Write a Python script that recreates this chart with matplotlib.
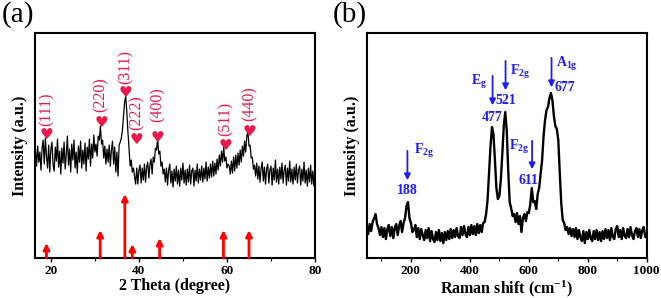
import numpy as np
import matplotlib
matplotlib.use('Agg')
import matplotlib.pyplot as plt
from matplotlib.ticker import MultipleLocator

plt.rcParams['font.family'] = 'Liberation Serif'
plt.rcParams['font.weight'] = 'bold'
plt.rcParams['axes.labelweight'] = 'bold'
plt.rcParams['mathtext.fontset'] = 'custom'
plt.rcParams['mathtext.rm'] = 'Liberation Serif:bold'
plt.rcParams['mathtext.bf'] = 'Liberation Serif:bold'
plt.rcParams['mathtext.it'] = 'Liberation Serif:italic:bold'

# XRD pattern (2 theta grid, intensity)
two_theta = np.arange(16.5, 80.01, 0.25)
xrd = [108, 92, 112, 96, 106, 88, 110, 118, 94, 120,
       102, 90, 113, 86, 109, 116, 93, 87, 111, 97,
       119, 91, 107, 84, 110, 95, 116, 89, 104, 122,
       93, 109, 86, 114, 98, 118, 90, 106, 85, 112,
       96, 117, 90, 108, 94, 115, 87, 111, 99, 119,
       92, 114, 100, 123, 106,
       114, 102, 122, 118, 132, 114, 118, 100, 112, 94, 109, 96,
       113, 92, 108, 117, 94, 111, 86, 106, 82, 113, 116,
       120, 128, 142, 156, 162, 146, 126, 110, 92,
       98, 86, 90, 82, 74, 90, 74, 88, 93, 75,
       90, 78, 94, 76, 91, 96, 80, 93, 99, 84, 101,
       96, 110, 108, 120, 104, 107, 92, 96, 84, 89,
       76, 90, 73, 88, 94, 75, 87, 71, 89, 77,
       92, 74, 88, 72, 90, 78, 95, 75, 88, 73,
       89, 76, 93, 74, 87, 90, 72, 88, 77, 94,
       75, 89, 78, 92, 76, 90, 79, 96, 77, 91,
       80, 94, 81, 97, 82, 95,
       84, 99, 88, 103, 92, 107, 96, 111, 97, 101, 90, 94, 92, 84,
       97, 85, 101, 87, 103, 90, 105, 93, 108, 96, 112,
       102, 117, 106, 122, 126, 112, 113, 100, 101, 89, 93,
       82, 95, 79, 92, 76, 90, 96, 77, 91, 74,
       89, 94, 75, 88, 92, 73, 90, 78, 98, 76,
       89, 74, 91, 79, 95, 75, 88, 93, 73, 90,
       77, 97, 76, 89, 74, 91, 78, 94, 75, 88,
       92, 73, 89, 77, 96, 75, 88, 72, 90, 76,
       93, 74, 87, 72, 85]
xrd_ticks = [20, 40, 60, 80]

# standard card positions and relative heights
ref_pos = [19.0, 31.2, 36.8, 38.5, 44.7, 59.2, 65.0]
ref_int = [15, 28, 64, 14, 20, 28, 28]

# indexed peaks
hkl = ['(111)', '(220)', '(311)', '(222)', '(400)', '(511)', '(440)']
hkl_pos = [19.1, 31.4, 37.0, 39.4, 44.3, 59.7, 65.2]
heart_y = [124, 136, 166, 119, 121, 113, 127]
label_y = [132, 146, 174, 128, 136, 122, 137]

# Raman spectrum
raman_x = np.arange(50, 1001, 5)
raman = [32, 24, 34, 27, 36, 40, 44, 34, 30, 23,
         31, 21, 30, 19, 29, 33, 22, 31, 20, 30,
         34, 23, 32, 37, 26, 35, 40, 52, 56, 40,
         35, 26, 28, 33, 21, 30, 19, 29, 23, 18,
         28, 20, 30, 17, 27, 19, 16, 26, 18, 28,
         17, 25, 15, 26, 18, 27, 19, 29, 20, 28,
         21, 30, 22, 20, 31, 23, 32, 24, 21, 31,
         23, 33, 24, 32, 23, 34, 25, 33, 26, 35,
         36, 44, 58, 85, 112, 131, 124, 98, 70, 59,
         62, 78, 104, 132, 146, 128, 88, 56, 50, 42,
         44, 36, 45, 34, 42, 26, 40, 44, 37, 46,
         45, 54, 70, 56, 57, 49, 64, 70, 84, 98,
         122, 138, 148, 151, 160, 165, 158, 142, 132, 129,
         118, 85, 55, 38, 35, 28, 31, 24, 30, 22,
         29, 21, 30, 19, 28, 21, 17, 27, 15, 26,
         19, 28, 20, 17, 27, 19, 28, 18, 26, 17,
         27, 19, 29, 20, 28, 18, 30, 21, 19, 29,
         32, 21, 28, 19, 30, 22, 20, 29, 21, 31,
         23, 19, 27, 30, 21, 29, 20, 28, 31, 21,
         24]
raman_ticks = [200, 400, 600, 800, 1000]

# Raman mode annotations
modes = ['F$_\\mathregular{2g}$', 'E$_\\mathregular{g}$', 'F$_\\mathregular{2g}$',
         'F$_\\mathregular{2g}$', 'A$_\\mathregular{1g}$']
mode_pos = [188, 477, 521, 611, 677]

red = '#e8194b'
blue = '#1c1cff'

fig = plt.figure(figsize=(6.61, 2.98), dpi=100)
ax1 = fig.add_axes([0.053, 0.134, 0.4236, 0.755])
ax2 = fig.add_axes([0.5548, 0.134, 0.4236, 0.755])

# (a) XRD
ax1.plot(two_theta, xrd, color='black', lw=0.9)
for x, h in zip(ref_pos, ref_int):
    ax1.annotate('', xy=(x, h), xytext=(x, 0),
                 arrowprops=dict(arrowstyle='-|>', color='red', lw=2, mutation_scale=9,
                                 shrinkA=0, shrinkB=0))
for lab, x, hy, ly in zip(hkl, hkl_pos, heart_y, label_y):
    ax1.text(x, hy, '\u2665', color=red, fontsize=11, ha='center', va='center',
             family='DejaVu Sans')
    ax1.text(x, ly, lab, color=red, fontsize=11.5, rotation=90, ha='center', va='bottom',
             fontweight='normal')
ax1.set_xlim(16.4, 80)
ax1.set_ylim(0, 225)
ax1.set_xticks(xrd_ticks, [str(t) for t in xrd_ticks], fontweight='bold')
ax1.xaxis.set_minor_locator(MultipleLocator(10))
ax1.set_xlabel('2 Theta (degree)', fontsize=11.5, fontweight='bold', labelpad=1)
ax1.set_ylabel('Intensity (a.u.)', fontsize=11.5, fontweight='bold', labelpad=5)

# (b) Raman
ax2.plot(raman_x, raman, color='black', lw=1.7)
ax2.annotate('', xy=(188, 75), xytext=(188, 110),
             arrowprops=dict(arrowstyle='-|>', color=blue, lw=1.3, mutation_scale=9))
ax2.text(210, 107, modes[0], color=blue, fontsize=10, ha='left', va='center')
ax2.text(188, 68, '188', color=blue, fontsize=10, ha='center', va='center')
ax2.annotate('', xy=(477, 150), xytext=(477, 185),
             arrowprops=dict(arrowstyle='-|>', color=blue, lw=1.3, mutation_scale=9))
ax2.text(458, 176, modes[1], color=blue, fontsize=10, ha='right', va='center')
ax2.text(477, 141, '477', color=blue, fontsize=10, ha='center', va='center')
ax2.annotate('', xy=(521, 165), xytext=(521, 200),
             arrowprops=dict(arrowstyle='-|>', color=blue, lw=1.3, mutation_scale=9))
ax2.text(537, 186, modes[2], color=blue, fontsize=10, ha='left', va='center')
ax2.text(521, 158, '521', color=blue, fontsize=10, ha='center', va='center')
ax2.annotate('', xy=(611, 86), xytext=(611, 120),
             arrowprops=dict(arrowstyle='-|>', color=blue, lw=1.3, mutation_scale=9))
ax2.text(600, 111, modes[3], color=blue, fontsize=10, ha='right', va='center')
ax2.text(597, 78, '611', color=blue, fontsize=10, ha='center', va='center')
ax2.annotate('', xy=(677, 168), xytext=(677, 203),
             arrowprops=dict(arrowstyle='-|>', color=blue, lw=1.3, mutation_scale=9))
ax2.text(692, 194, modes[4], color=blue, fontsize=10, ha='left', va='center')
ax2.text(686, 171, '677', color=blue, fontsize=10, ha='left', va='center')
ax2.set_xlim(50, 1000)
ax2.set_ylim(0, 225)
ax2.set_xticks(raman_ticks, [str(t) for t in raman_ticks], fontweight='bold')
ax2.xaxis.set_minor_locator(MultipleLocator(100))
ax2.set_xlabel('Raman shift (cm$^{-1}$)', fontsize=11.5, fontweight='bold', labelpad=1)
ax2.set_ylabel('Intensity (a.u.)', fontsize=11.5, fontweight='bold', labelpad=5)

for ax in (ax1, ax2):
    ax.set_yticks([])
    for s in ax.spines.values():
        s.set_linewidth(1.5)
    ax.tick_params(axis='x', which='major', direction='out', length=3, width=1.0,
                   labelsize=9.5, pad=2)
    ax.tick_params(axis='x', which='minor', direction='out', length=2, width=0.8)

fig.text(0.003, 0.995, '(a)', fontsize=21, fontweight='normal', va='top', ha='left')
fig.text(0.503, 0.995, '(b)', fontsize=21, fontweight='normal', va='top', ha='left')

plt.savefig('out.png', dpi=100)
